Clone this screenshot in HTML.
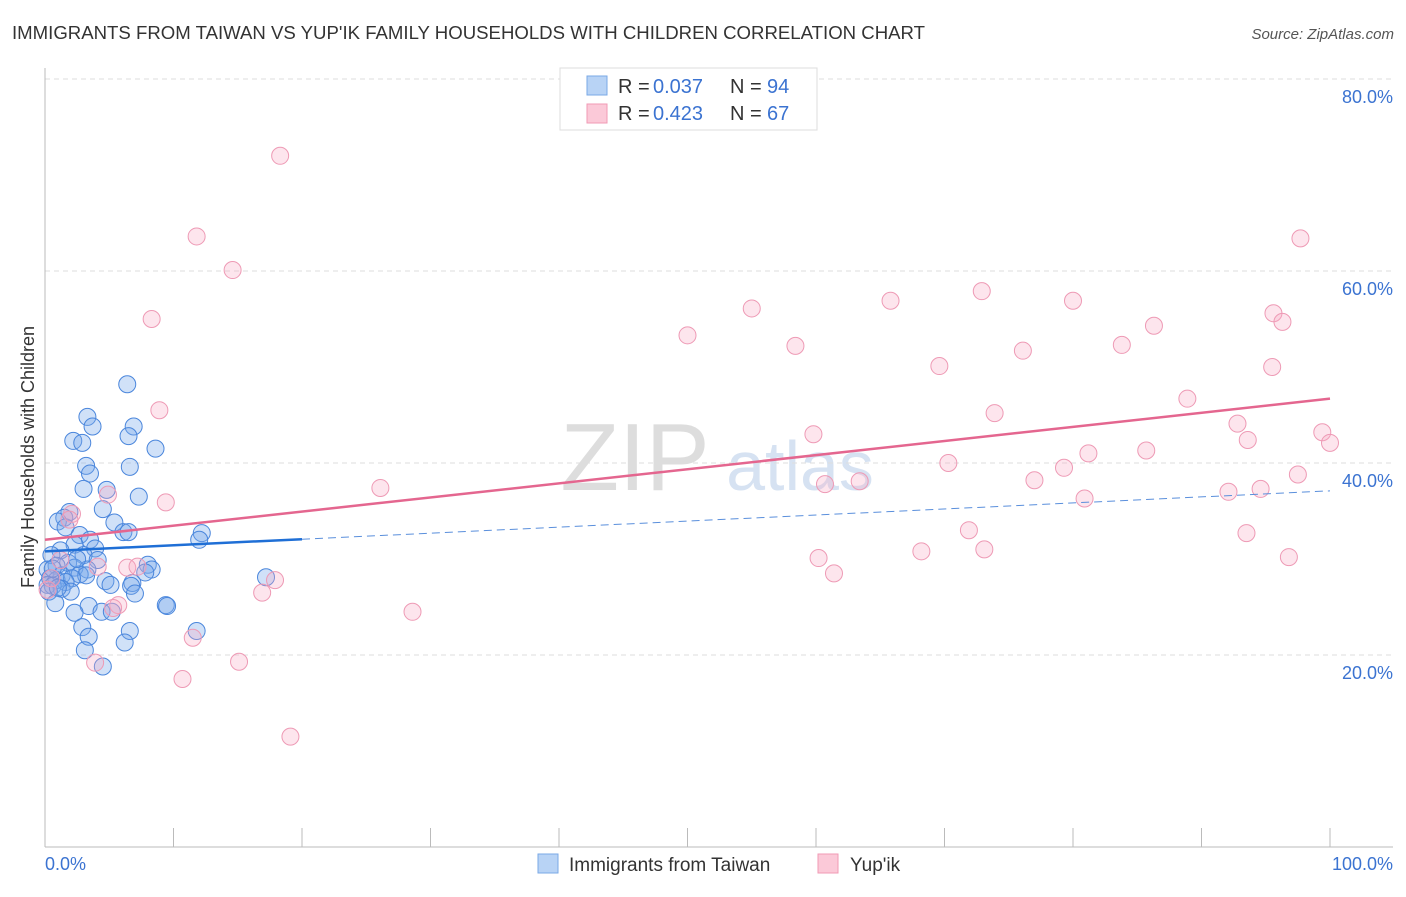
<!DOCTYPE html>
<html><head><meta charset="utf-8"><style>
body{margin:0;background:#fff;font-family:"Liberation Sans",sans-serif;}
svg text{font-family:"Liberation Sans",sans-serif;}
</style></head><body>
<svg id="chart" width="1406" height="892">
<text x="12" y="39" font-size="18" fill="#333" textLength="913" lengthAdjust="spacingAndGlyphs">IMMIGRANTS FROM TAIWAN VS YUP'IK FAMILY HOUSEHOLDS WITH CHILDREN CORRELATION CHART</text>
<text x="1394" y="39" font-size="15" fill="#555" font-style="italic" text-anchor="end">Source: ZipAtlas.com</text>
<text x="635" y="490" font-size="96" fill="#ddd" font-family="Liberation Serif" text-anchor="middle">ZIP</text>
<text x="800" y="490" font-size="70" fill="#d6e2f2" text-anchor="middle">atlas</text>
<text transform="translate(34,457) rotate(-90)" font-size="18" fill="#333" text-anchor="middle">Family Households with Children</text>
<g id="grid"></g><g id="pts"></g><g id="lines"></g>
<g>
<rect x="560" y="68" width="257" height="62" fill="#fff" stroke="#ddd"/>
<rect x="587" y="76" width="20" height="19" fill="#b8d3f5" stroke="#7aa8e6"/>
<rect x="587" y="104" width="20" height="19" fill="#fbc9d8" stroke="#f09ab5"/>
<text x="618" y="93" font-size="20" fill="#333">R =</text>
<text x="653" y="93" font-size="20" fill="#3b73d1">0.037</text>
<text x="730" y="93" font-size="20" fill="#333">N =</text>
<text x="767" y="93" font-size="20" fill="#3b73d1">94</text>
<text x="618" y="120" font-size="20" fill="#333">R =</text>
<text x="653" y="120" font-size="20" fill="#3b73d1">0.423</text>
<text x="730" y="120" font-size="20" fill="#333">N =</text>
<text x="767" y="120" font-size="20" fill="#3b73d1">67</text>
</g>
<g>
<rect x="538" y="854" width="20" height="19" fill="#b8d3f5" stroke="#7aa8e6"/>
<text x="569" y="871" font-size="19" fill="#333">Immigrants from Taiwan</text>
<rect x="818" y="854" width="20" height="19" fill="#fbc9d8" stroke="#f09ab5"/>
<text x="850" y="871" font-size="19" fill="#333">Yup'ik</text>
</g>
<text x="45" y="870" font-size="18" fill="#3b73d1">0.0%</text>
<text x="1393" y="870" font-size="18" fill="#3b73d1" text-anchor="end">100.0%</text>
</svg>
<script>
const yTicks=[20,40,60,80];
const blueX=[6.4,3.3,3.7,6.9,6.5,2.2,2.9,8.6,3.2,6.6,3.5,3.0,4.8,7.3,4.5,1.9,1.5,5.4,1.0,1.6,6.1,6.5,12.2,12.0,2.7,3.5,2.3,3.9,1.2,0.5,3.0,4.1,1.8,0.9,8.0,2.3,3.3,0.2,8.3,7.8,1.3,2.7,3.2,17.2,0.4,0.9,2.1,4.7,1.6,6.8,0.2,0.6,5.1,6.7,1.3,0.3,2.0,7.0,0.8,3.4,9.4,9.5,2.3,4.4,5.2,2.9,6.6,11.8,3.4,6.2,3.1,4.5,1.0,2.5,0.6];
const blueY=[48.2,44.8,43.8,43.8,42.8,42.3,42.1,41.5,39.7,39.6,38.9,37.3,37.2,36.5,35.2,34.9,34.3,33.8,33.9,33.3,32.8,32.8,32.7,32.0,32.5,32.0,31.5,31.1,30.9,30.4,30.4,29.9,29.6,29.3,29.4,29.1,28.9,28.9,28.9,28.6,28.3,28.4,28.3,28.1,28.0,27.8,28.0,27.7,27.6,27.5,27.3,27.2,27.3,27.2,26.9,26.6,26.6,26.4,25.4,25.1,25.2,25.1,24.4,24.5,24.5,22.9,22.5,22.5,21.9,21.3,20.5,18.8,27.0,30.0,29.0];
const pinkX=[18.3,11.8,14.6,8.3,8.9,4.9,9.4,2.1,26.1,50.0,55.0,58.4,65.8,72.9,80.0,69.6,76.1,83.8,86.3,97.7,95.6,96.3,95.5,88.9,73.9,59.8,92.8,93.6,99.4,100,70.3,81.2,85.7,79.3,77.0,60.7,63.4,97.5,92.1,94.6,80.9,71.9,93.5,68.2,73.1,60.2,96.8,61.4,6.4,7.2,4.1,17.9,16.9,5.7,5.3,28.6,11.5,15.1,3.9,10.7,19.1,1.9,1.2,0.5,0.2];
const pinkY=[72.0,63.6,60.1,55.0,45.5,36.7,35.9,34.7,37.4,53.3,56.1,52.2,56.9,57.9,56.9,50.1,51.7,52.3,54.3,63.4,55.6,54.7,50.0,46.7,45.2,43.0,44.1,42.4,43.2,42.1,40.0,41.0,41.3,39.5,38.2,37.8,38.1,38.8,37.0,37.3,36.3,33.0,32.7,30.8,31.0,30.1,30.2,28.5,29.1,29.2,29.2,27.8,26.5,25.2,24.9,24.5,21.8,19.3,19.2,17.5,11.5,34.1,29.9,28.0,26.8];
const blueTrend=[30.8,37.1];
const blueSolidEnd=20;
const pinkTrend=[32.0,46.7];
const ns='http://www.w3.org/2000/svg';
const X=v=>45+v*12.85, Y=v=>847-v*9.6;
function mk(t,a,p){const e=document.createElementNS(ns,t);for(const k in a)e.setAttribute(k,a[k]);p.appendChild(e);return e;}
const g=document.getElementById('grid');
yTicks.forEach(t=>{
 const l=mk('line',{x1:45,x2:1393,y1:Y(t),y2:Y(t),stroke:'#ddd','stroke-dasharray':'5,4'},g);
 
 
 const tx=mk('text',{x:1393,y:Y(t)+24,'font-size':18,fill:'#3b73d1','text-anchor':'end'},g);
 tx.textContent=t.toFixed(1)+'%';
 
 
});
const ax=mk('line',{x1:45,x2:45,y1:68,y2:847,stroke:'#bbb'},g);


const bx=mk('line',{x1:45,x2:1393,y1:847,y2:847,stroke:'#bbb'},g);


for(let i=1;i<=10;i++){const t=mk('line',{x1:X(i*10),x2:X(i*10),y1:828,y2:847,stroke:'#bbb'},g);
 
 }
const p=document.getElementById('pts');
blueX.forEach((x,i)=>{const c=mk('circle',{cx:X(x),cy:Y(blueY[i]),r:8.5,fill:'rgba(120,170,235,0.35)',stroke:'#4a86dc','stroke-width':1},p);
 
 });
pinkX.forEach((x,i)=>{const c=mk('circle',{cx:X(x),cy:Y(pinkY[i]),r:8.5,fill:'rgba(248,170,195,0.3)',stroke:'#ee9ab5','stroke-width':1},p);
 
 });
const L=document.getElementById('lines');
const by=x=>blueTrend[0]+(blueTrend[1]-blueTrend[0])*x/100;
const l1=mk('line',{x1:X(0),y1:Y(pinkTrend[0]),x2:X(100),y2:Y(pinkTrend[1]),stroke:'#e4668f','stroke-width':2.5},L);


const l2=mk('line',{x1:X(0),y1:Y(by(0)),x2:X(blueSolidEnd),y2:Y(by(blueSolidEnd)),stroke:'#1f6fd6','stroke-width':2.5},L);


const l3=mk('line',{x1:X(blueSolidEnd),y1:Y(by(blueSolidEnd)),x2:X(100),y2:Y(by(100)),stroke:'#5a8fdc','stroke-width':1,'stroke-dasharray':'8,5'},L);


</script>
</body></html>
